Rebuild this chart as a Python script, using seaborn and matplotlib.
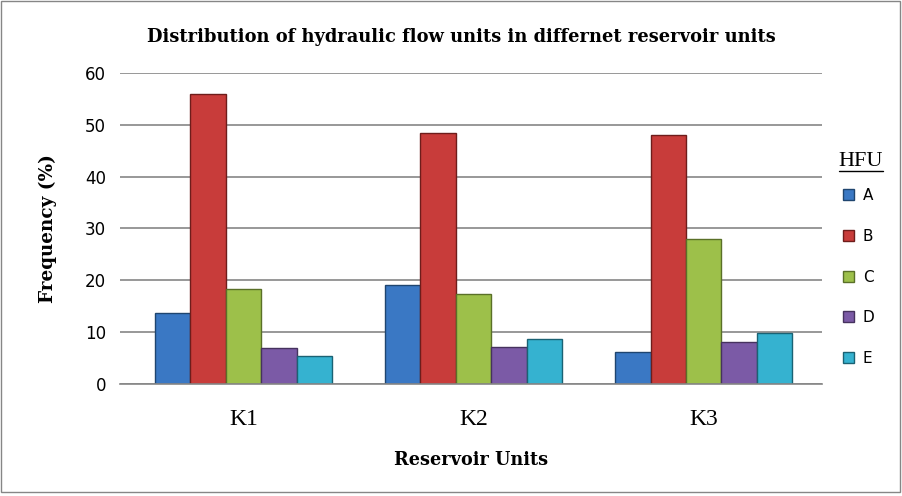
import pandas as pd
import matplotlib.pyplot as plt
import seaborn as sns
from matplotlib.patches import Rectangle, Patch

sns.set_style("white")
plt.rcParams["text.color"] = "black"
plt.rcParams["axes.labelcolor"] = "black"
plt.rcParams["xtick.color"] = "black"
plt.rcParams["ytick.color"] = "black"

# Data
units = ["K1", "K2", "K3"]
hfu = ["A", "B", "C", "D", "E"]
freq_A = [13.6, 19.0, 6.2]
freq_B = [55.9, 48.4, 48.0]
freq_C = [18.3, 17.3, 27.9]
freq_D = [6.9, 7.2, 8.0]
freq_E = [5.3, 8.6, 9.8]

colors = ["#3A78C4", "#C83C3A", "#9DC04A", "#7B5AA6", "#35B2D0"]
edges = ["#1F456F", "#6E1D1B", "#5A7028", "#46325E", "#1A6274"]

rows = []
for h, vals in zip(hfu, [freq_A, freq_B, freq_C, freq_D, freq_E]):
    for u, v in zip(units, vals):
        rows.append({"Unit": u, "HFU": h, "Freq": v})
df = pd.DataFrame(rows)

fig = plt.figure(figsize=(9.02, 4.96), dpi=100)
ax = fig.add_axes([0.133, 0.226, 0.778, 0.627])

sns.barplot(data=df, x="Unit", y="Freq", hue="HFU", order=units, hue_order=hfu,
            palette=colors, saturation=1, width=0.77, gap=0, ax=ax, legend=False)

# darker outlines per series
for container, ec in zip(ax.containers, edges):
    for bar in container:
        bar.set_edgecolor(ec)
        bar.set_linewidth(1.0)

ax.set_xlim(-0.537, 2.513)
ax.set_ylim(0, 60)
ax.set_yticks(range(0, 61, 10))
ax.yaxis.grid(True, color="#868686", linewidth=1.2)
ax.set_axisbelow(True)
for s in ["top", "right", "left"]:
    ax.spines[s].set_visible(False)
ax.spines["bottom"].set_color("#868686")
ax.spines["bottom"].set_linewidth(1.2)
ax.tick_params(axis="y", labelsize=12, length=0, pad=10)
ax.tick_params(axis="x", length=0, pad=18)
for lab in ax.get_yticklabels():
    lab.set_fontfamily("DejaVu Sans")
for lab in ax.get_xticklabels():
    lab.set_fontfamily("Liberation Serif")
    lab.set_fontsize(17)

ax.set_xlabel("Reservoir Units", fontfamily="DejaVu Serif", fontsize=12.7,
              fontweight="bold", labelpad=15)
ax.set_ylabel("Frequency (%)", fontfamily="DejaVu Serif", fontsize=13.2,
              fontweight="bold", labelpad=20)
fig.suptitle("Distribution of hydraulic flow units in differnet reservoir units",
             fontfamily="DejaVu Serif", fontsize=12.9, fontweight="bold",
             x=0.512, y=0.944)

# legend
handles = [Patch(facecolor=c, edgecolor=e, label=h) for c, e, h in zip(colors, edges, hfu)]
leg = fig.legend(handles=handles, loc="upper left", bbox_to_anchor=(0.926, 0.636),
                 frameon=False, handlelength=0.7, handleheight=0.7,
                 labelspacing=1.68, handletextpad=0.6, borderpad=0,
                 prop={"family": "DejaVu Sans", "size": 11})

# underlined legend title
t = fig.text(0.930, 0.665, "HFU", fontfamily="Liberation Serif", fontsize=16,
             ha="left", va="baseline")
fig.canvas.draw()
tb = t.get_window_extent()
inv = fig.transFigure.inverted()
x0, y0 = inv.transform((tb.x0, tb.y0))
x1, _ = inv.transform((tb.x1, tb.y0))
fig.add_artist(plt.Line2D([x0, x1], [y0 + 0.001, y0 + 0.001], color="black", lw=1,
                          transform=fig.transFigure))

fig.add_artist(Rectangle((0.001, 0.008), 0.997, 0.99, transform=fig.transFigure,
                         fill=False, edgecolor="#868686", linewidth=1))

fig.savefig("out.png", dpi=100)
